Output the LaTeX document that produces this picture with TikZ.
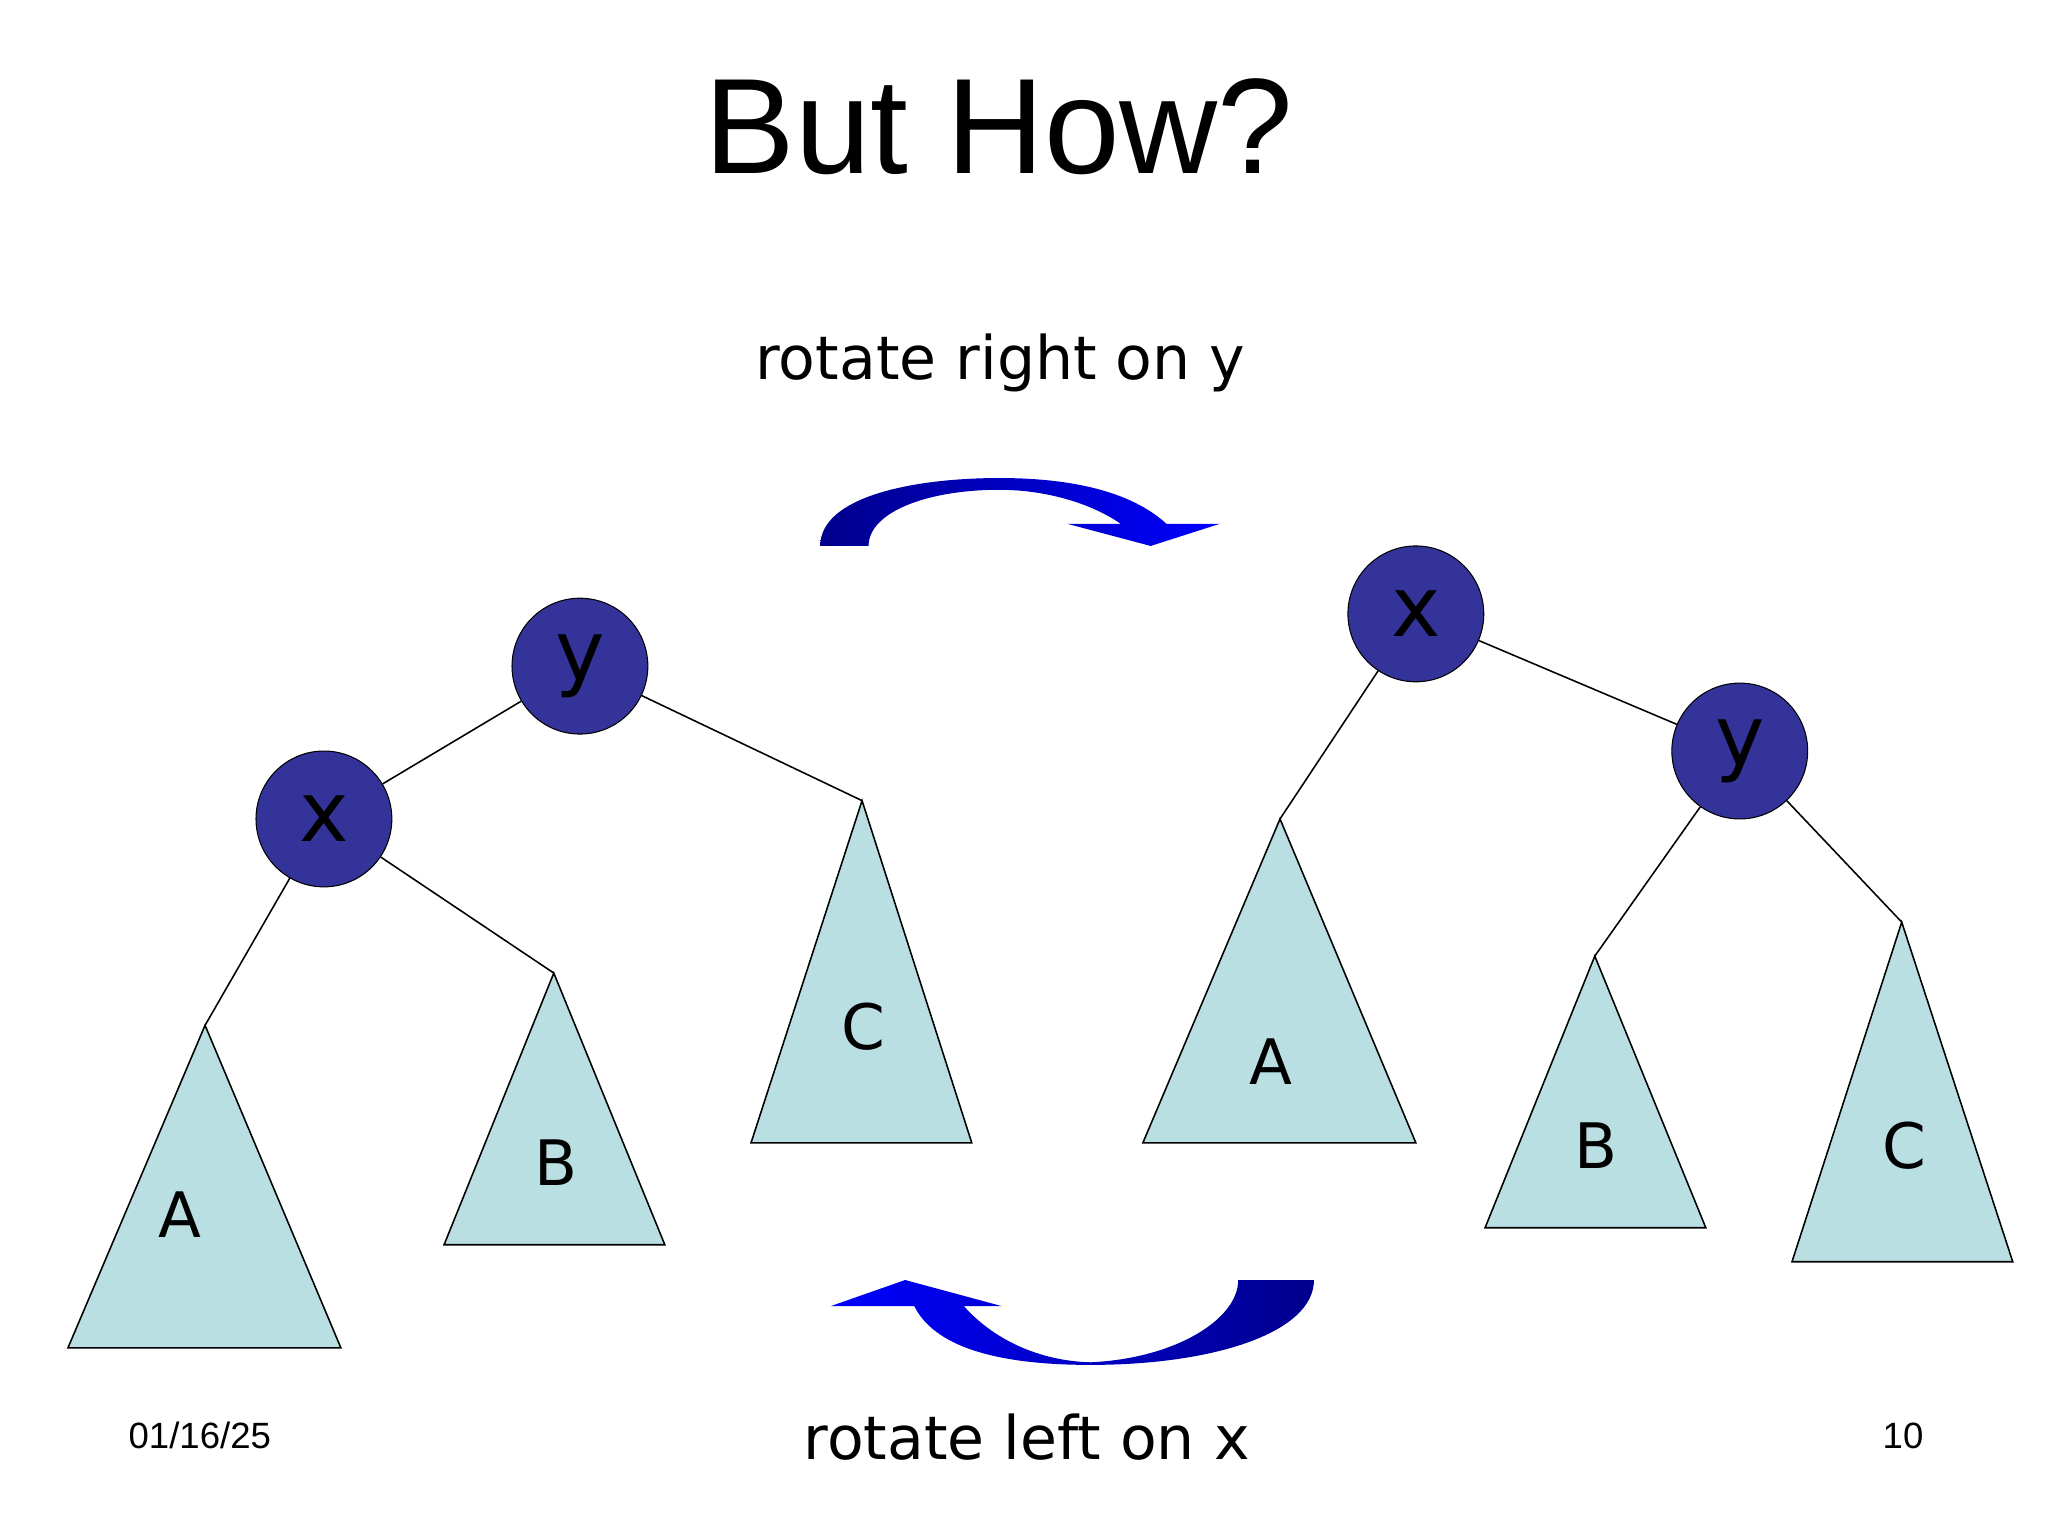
\documentclass[tikz,border=0pt]{standalone}
\usepackage{fontspec}
\setmainfont{DejaVu Sans}
\newfontfamily\arialf{Liberation Sans}
\definecolor{nodeblue}{HTML}{333399}
\definecolor{tri}{HTML}{BADFE2}
\begin{document}
\begin{tikzpicture}[x=0.5pt,y=-0.5pt,
  circ/.style={circle,draw=black,fill=nodeblue,minimum size=52pt,inner sep=0pt,font=\fontsize{32}{32}\selectfont},
  trif/.style={draw=black,fill=tri,line width=0.6pt},
  edge/.style={line width=0.6pt},
  lbl/.style={font=\fontsize{24}{24}\selectfont},
  big/.style={font=\fontsize{23}{23}\selectfont}]
\useasboundingbox (0,0) rectangle (1568,1176);
\node[font=\arialf\fontsize{52}{52}\selectfont] (title) at (765,97) {But How?};
\node[big] (t1) at (766,278) {rotate right on y};
\node[big] (t2) at (786,1100) {rotate left on x};
\node[font=\arialf\fontsize{14}{14}\selectfont] (date) at (153,1099) {01/16/25};
\node[font=\arialf\fontsize{14}{14}\selectfont] (pg) at (1457,1099) {10};
% top arrow
\shade[left color=blue!55!black,right color=blue] (628,418) .. controls (628,380) and (700,366) .. (765,366) .. controls (830,366) and (870,380) .. (893,401) -- (934,401) -- (881,418) -- (817,401) -- (858,401) .. controls (835,385) and (800,375) .. (765,375) .. controls (710,375) and (665,392) .. (665,418) -- cycle;
% bottom arrow
\shade[left color=blue,right color=blue!55!black] (1006,980) .. controls (1006,1020) and (930,1045) .. (835,1045) .. controls (760,1045) and (715,1030) .. (700,1000) -- (636,1000) -- (693,980) -- (767,1000) -- (738,1000) .. controls (760,1025) and (795,1042) .. (835,1043) .. controls (900,1040) and (948,1010) .. (948,980) -- cycle;
% left tree
\coordinate (LA) at (157,785); \coordinate (LB) at (424,745); \coordinate (LC) at (660,613);
\filldraw[trif] (LA) -- (261,1032) -- (52,1032) -- cycle;
\filldraw[trif] (LB) -- (509,953) -- (340,953) -- cycle;
\filldraw[trif] (LC) -- (744,875) -- (575,875) -- cycle;
\node[lbl] (la) at (138,930) {A};
\node[lbl] (lb) at (426,890) {B};
\node[lbl] (lc) at (661,786) {C};
\node[circ] (ly) at (444,510) {y};
\node[circ] (lx) at (248,627) {x};
\draw[edge] (ly) -- (lx);
\draw[edge] (ly) -- (LC);
\draw[edge] (lx) -- (LA);
\draw[edge] (lx) -- (LB);
% right tree
\coordinate (RA) at (980,627); \coordinate (RB) at (1221,732); \coordinate (RC) at (1456,706);
\filldraw[trif] (RA) -- (1084,875) -- (875,875) -- cycle;
\filldraw[trif] (RB) -- (1306,940) -- (1137,940) -- cycle;
\filldraw[trif] (RC) -- (1541,966) -- (1372,966) -- cycle;
\node[lbl] (ra) at (973,813) {A};
\node[lbl] (rb) at (1222,877) {B};
\node[lbl] (rc) at (1458,877) {C};
\node[circ] (rx) at (1084,470) {x};
\node[circ] (ry) at (1332,575) {y};
\draw[edge] (rx) -- (RA);
\draw[edge] (rx) -- (ry);
\draw[edge] (ry) -- (RB);
\draw[edge] (ry) -- (RC);
\end{tikzpicture}
\end{document}
